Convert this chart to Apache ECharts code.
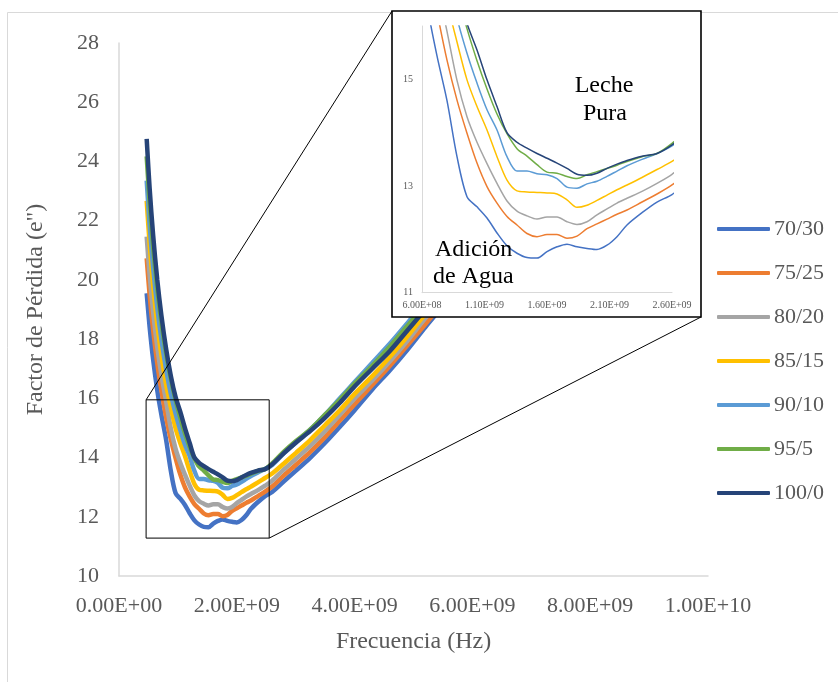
<!DOCTYPE html>
<html>
<head>
<meta charset="utf-8">
<script src="https://cdn.jsdelivr.net/npm/echarts@6/dist/echarts.min.js"></script>
<style>
  html, body { margin: 0; padding: 0; background: #fff; }
  #chart { width: 838px; height: 682px; }
</style>
</head>
<body>
<div id="chart"></div>
<script>
// Frequencies (Hz)
const freq = [0.47e9,0.52e9,0.58e9,0.65e9,0.72e9,0.80e9,0.88e9,0.96e9,1.04e9,1.12e9,1.20e9,1.28e9,1.36e9,1.44e9,1.52e9,1.60e9,1.68e9,1.76e9,1.84e9,1.92e9,2.00e9,2.08e9,2.16e9,2.24e9,2.36e9,2.48e9,2.60e9,2.80e9,3.00e9,3.25e9,3.50e9,3.75e9,4.00e9,4.30e9,4.60e9,4.90e9,5.20e9,5.60e9];

const seriesNames = ['70/30','75/25','80/20','85/15','90/10','95/5','100/0'];
const s70_30 = [19.55,18.41,17.3,16.27,15.44,14.6,13.55,12.8,12.61,12.4,12.12,11.88,11.74,11.66,11.65,11.77,11.86,11.91,11.86,11.83,11.81,11.89,12.05,12.27,12.5,12.7,12.84,13.2,13.55,14.0,14.5,15.04,15.6,16.3,16.95,17.65,18.4,19.35];
const s75_25 = [20.73,19.49,18.29,17.17,16.27,15.36,14.61,13.99,13.43,12.99,12.68,12.43,12.27,12.11,12.05,12.09,12.09,12.02,12.06,12.2,12.29,12.38,12.47,12.55,12.7,12.85,13.02,13.4,13.75,14.2,14.7,15.25,15.8,16.45,17.1,17.8,18.5,19.45];
const s80_20 = [21.46,20.16,18.91,17.73,16.79,15.9,14.98,14.3,13.82,13.42,13.05,12.72,12.53,12.44,12.38,12.42,12.42,12.33,12.28,12.33,12.46,12.57,12.68,12.77,12.9,13.05,13.22,13.6,13.95,14.4,14.9,15.45,16.0,16.6,17.25,17.95,18.7,19.6];
const s85_15 = [22.67,21.22,19.81,18.5,17.45,16.46,15.7,14.99,14.49,14.05,13.55,13.11,12.91,12.89,12.88,12.87,12.85,12.74,12.6,12.64,12.73,12.83,12.93,13.02,13.16,13.31,13.46,13.8,14.15,14.6,15.1,15.6,16.15,16.75,17.4,18.1,18.85,19.7];
const s90_10 = [23.35,21.86,20.42,19.07,17.99,16.98,16.15,15.49,14.93,14.43,14.05,13.55,13.28,13.28,13.23,13.21,13.14,12.98,12.96,13.04,13.09,13.18,13.28,13.38,13.5,13.61,13.75,14.15,14.5,14.95,15.45,16.0,16.55,17.2,17.85,18.55,19.27,20.2];
const s95_5 = [24.17,22.62,21.11,19.7,18.57,17.51,16.65,15.95,15.35,14.82,14.35,13.98,13.7,13.56,13.4,13.26,13.24,13.18,13.14,13.21,13.27,13.33,13.39,13.46,13.55,13.61,13.8,14.2,14.55,14.95,15.45,15.95,16.5,17.1,17.75,18.45,19.15,20.1];
const s100_0 = [24.76,23.1,21.5,20.0,18.8,17.67,16.76,16.05,15.55,14.99,14.49,14.0,13.82,13.71,13.61,13.52,13.43,13.33,13.22,13.2,13.24,13.33,13.41,13.48,13.56,13.61,13.77,14.15,14.5,14.9,15.35,15.85,16.4,17.0,17.6,18.3,19.0,19.9];
const allValues = [s70_30, s75_25, s80_20, s85_15, s90_10, s95_5, s100_0];
const colors = ['#4472C4','#ED7D31','#A5A5A5','#FFC000','#5B9BD5','#70AD47','#264478'];

// Main axis settings
const xMain = {min: 0, max: 1e10, interval: 2e9};
const yMain = {min: 10, max: 28, interval: 2};
// Inset axis settings
const xInset = {min: 6e8, max: 2.6e9, step: 1e8, labelEvery: 5};
const yInset = {min: 11, max: 16, step: 1, labels: [11, 13, 15]};
// Zoomed region marked on main chart
const zoomBox = {x0: 4.6e8, x1: 2.55e9, y0: 11.28, y1: 15.95};
// Arrows in inset (data coords)
const arrowWater = [[1.41e9, 14.39], [0.986e9, 12.14]];
const arrowMilk = [[1.60e9, 11.33], [2.05e9, 13.73]];

function sci(v) {
  if (v === 0) return '0.00E+00';
  const e = Math.floor(Math.log10(Math.abs(v)) + 1e-9);
  const m = v / Math.pow(10, e);
  return m.toFixed(2) + 'E+' + String(e).padStart(2, '0');
}

const FONT = '"Liberation Serif", "Times New Roman", serif';
const GRAY = '#595959';
const AX = '#d9d9d9';

const series = [];
seriesNames.forEach((n, i) => {
  const d = freq.map((f, k) => [f, allValues[i][k]]);
  series.push({
    name: n, type: 'line', xAxisIndex: 0, yAxisIndex: 0, data: d,
    symbol: 'none', showSymbol: false, smooth: 0.3, z: 2,
    lineStyle: {width: 4.5, color: colors[i]}, itemStyle: {color: colors[i]}
  });
});
seriesNames.forEach((n, i) => {
  const d = freq.map((f, k) => [f, allValues[i][k]]);
  const s = {
    name: n, type: 'line', xAxisIndex: 1, yAxisIndex: 1, data: d,
    symbol: 'none', showSymbol: false, smooth: 0.3, z: 70, clip: true,
    lineStyle: {width: 1.5, color: colors[i]}, itemStyle: {color: colors[i]}
  };
  if (i === seriesNames.length - 1) {
    s.markLine = {
      silent: true, symbol: ['none', 'arrow'], symbolSize: 9,
      lineStyle: {color: '#000', width: 1, type: 'solid'},
      label: {show: false},
      data: [
        [{coord: arrowWater[0]}, {coord: arrowWater[1]}],
        [{coord: arrowMilk[0]}, {coord: arrowMilk[1]}]
      ]
    };
  }
  series.push(s);
});

const chart = echarts.init(document.getElementById('chart'), null, {renderer: 'canvas'});
const option = {
  animation: false,
  backgroundColor: '#fff',
  textStyle: {fontFamily: FONT},
  legend: {
    orient: 'vertical', left: 712, top: 213,
    itemWidth: 53, itemHeight: 4, itemGap: 22,
    icon: 'roundRect',
    data: seriesNames,
    textStyle: {fontFamily: FONT, fontSize: 22, color: GRAY, lineHeight: 20, padding: [0, 0, 0, -1]}
  },
  grid: [
    {left: 119, top: 43, width: 589, height: 533},
    {left: 422, top: 26, width: 250, height: 266.7, z: 60}
  ],
  xAxis: [
    {
      type: 'value', gridIndex: 0, min: xMain.min, max: xMain.max, interval: xMain.interval,
      name: 'Frecuencia (Hz)', nameLocation: 'middle', nameGap: 54,
      nameTextStyle: {fontFamily: FONT, fontSize: 24, color: GRAY},
      axisLine: {show: true, lineStyle: {color: AX, width: 1.5}},
      axisTick: {show: false}, splitLine: {show: false},
      axisLabel: {fontFamily: FONT, fontSize: 22, color: GRAY, margin: 19, formatter: sci}
    },
    {
      type: 'value', gridIndex: 1, min: xInset.min, max: xInset.max, interval: xInset.step, z: 60,
      axisLine: {show: true, lineStyle: {color: AX, width: 1}},
      axisTick: {show: false}, splitLine: {show: false},
      axisLabel: {fontFamily: FONT, fontSize: 10, color: GRAY, margin: 8,
        formatter: v => (Math.round((v - xInset.min) / xInset.step) % xInset.labelEvery === 0) ? sci(v) : ''}
    }
  ],
  yAxis: [
    {
      type: 'value', gridIndex: 0, min: yMain.min, max: yMain.max, interval: yMain.interval,
      name: 'Factor de Pérdida (e")', nameLocation: 'middle', nameGap: 71, nameRotate: 90,
      nameTextStyle: {fontFamily: FONT, fontSize: 24, color: GRAY},
      axisLine: {show: true, lineStyle: {color: AX, width: 1.5}},
      axisTick: {show: false}, splitLine: {show: false},
      axisLabel: {fontFamily: FONT, fontSize: 22, color: GRAY, margin: 20}
    },
    {
      type: 'value', gridIndex: 1, min: yInset.min, max: yInset.max, interval: yInset.step, z: 60,
      axisLine: {show: true, lineStyle: {color: AX, width: 1}},
      axisTick: {show: false}, splitLine: {show: false},
      axisLabel: {fontFamily: FONT, fontSize: 10, color: GRAY, margin: 9,
        formatter: v => yInset.labels.indexOf(Math.round(v)) >= 0 ? String(v) : ''}
    }
  ],
  series: series
};
chart.setOption(option);

// Decorations: outer border, inset frame, zoom box and connectors
const p0 = chart.convertToPixel({gridIndex: 0}, [zoomBox.x0, zoomBox.y1]);
const p1 = chart.convertToPixel({gridIndex: 0}, [zoomBox.x1, zoomBox.y0]);
const frame = {x: 392, y: 11, w: 309, h: 306};
chart.setOption({
  graphic: [
    {type: 'rect', z: 0, silent: true, shape: {x: 7.5, y: 12.5, width: 900, height: 800},
      style: {fill: 'none', stroke: AX, lineWidth: 1}},
    {type: 'rect', z: 50, silent: true, shape: {x: p0[0], y: p0[1], width: p1[0] - p0[0], height: p1[1] - p0[1]},
      style: {fill: 'none', stroke: '#000', lineWidth: 1}},
    {type: 'line', z: 50, silent: true, shape: {x1: p0[0], y1: p0[1], x2: frame.x, y2: frame.y},
      style: {stroke: '#000', lineWidth: 1}},
    {type: 'line', z: 50, silent: true, shape: {x1: p1[0], y1: p1[1], x2: frame.x + frame.w, y2: frame.y + frame.h},
      style: {stroke: '#000', lineWidth: 1}},
    {type: 'rect', z: 55, silent: true, shape: {x: frame.x, y: frame.y, width: frame.w, height: frame.h},
      style: {fill: '#fff', stroke: '#000', lineWidth: 1.6}},
    {type: 'text', z: 80, silent: true, style: {text: 'Leche', x: 604, y: 86, font: '24px ' + FONT, fill: '#000', textAlign: 'center', textVerticalAlign: 'middle'}},
    {type: 'text', z: 80, silent: true, style: {text: 'Pura', x: 605, y: 114, font: '24px ' + FONT, fill: '#000', textAlign: 'center', textVerticalAlign: 'middle'}},
    {type: 'text', z: 80, silent: true, style: {text: 'Adición', x: 435, y: 250, font: '24px ' + FONT, fill: '#000', textAlign: 'left', textVerticalAlign: 'middle'}},
    {type: 'text', z: 80, silent: true, style: {text: 'de Agua', x: 433, y: 277, font: '24px ' + FONT, fill: '#000', textAlign: 'left', textVerticalAlign: 'middle'}}
  ]
});
</script>
</body>
</html>
